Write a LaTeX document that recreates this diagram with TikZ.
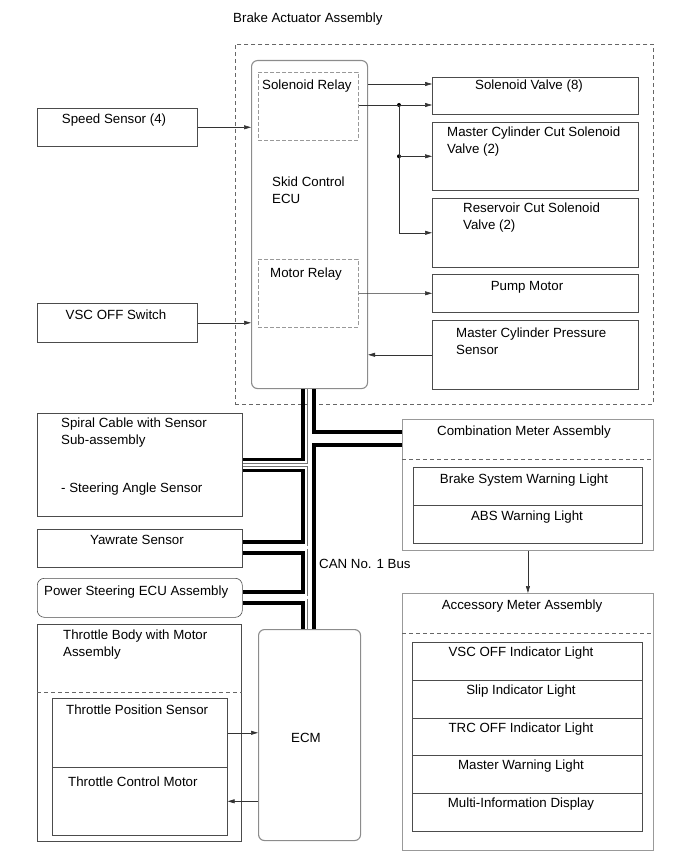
\documentclass[tikz,border=0pt]{standalone}
\usepackage{fontspec}
\setmainfont{Liberation Sans}
\usetikzlibrary{arrows.meta,calc}

\tikzset{
  box/.style={draw=black!70, line width=0.6pt, inner sep=0pt},
  grpbox/.style={draw=black!40, line width=0.9pt, inner sep=0pt},
  ecubox/.style={draw=black!45, line width=1.1pt, rounded corners=6pt, inner sep=0pt},
  relaybox/.style={draw=black!40, dash pattern=on 4pt off 2pt, line width=0.8pt, inner sep=0pt},
  grpdash/.style={draw=black!60, dash pattern=on 4pt off 3pt, line width=0.5pt, inner sep=0pt},
  lbl/.style={font=\fontsize{13.3}{17}\selectfont, inner sep=0pt, align=left},
  sig/.style={draw=black!80, line width=0.6pt, -{Triangle[length=7pt,width=4pt]}},
  canwire/.style={line width=3.8pt, black},
  canpair/.style={draw=black!55, line width=0.6pt, double=white, double distance=2.2pt},
  jdot/.style={circle, fill=black, inner sep=0pt, minimum size=4pt},
}

\begin{document}
\begin{tikzpicture}[x=1pt,y=-1pt]
\useasboundingbox (0,0) rectangle (690,853);

% Brake actuator assembly
\node[lbl, anchor=base west] (batitle) at (233,23) {Brake Actuator Assembly};
\node[grpdash, minimum width=418pt, minimum height=360pt, anchor=north west] (bra) at (235,44) {};
\node[ecubox, minimum width=116pt, minimum height=328pt, anchor=north west] (ecu) at (251,60) {};
\node[relaybox, minimum width=100pt, minimum height=68pt, anchor=north west] (solrelay) at (258,72) {};
\node[relaybox, minimum width=100pt, minimum height=68pt, anchor=north west] (motrelay) at (258,259) {};
\node[lbl, anchor=base west] (solrelaytxt) at (262,90) {Solenoid Relay};
\node[lbl, anchor=base west] (motrelaytxt) at (270,277) {Motor Relay};
\node[lbl, anchor=north west] (ecutxt) at (272,177) {Skid Control\\ECU};

% actuators and sensor in the assembly
\node[box, minimum width=206pt, minimum height=37pt, anchor=north west] (sv) at (432,77) {};
\node[box, minimum width=206pt, minimum height=68pt, anchor=north west] (mccv) at (432,122) {};
\node[box, minimum width=206pt, minimum height=69pt, anchor=north west] (rcv) at (432,198) {};
\node[box, minimum width=206pt, minimum height=38pt, anchor=north west] (pm) at (432,274) {};
\node[box, minimum width=206pt, minimum height=69pt, anchor=north west] (mcps) at (432,320) {};
\node[lbl, anchor=base] (svtxt) at (529,90) {Solenoid Valve (8)};
\node[lbl, anchor=north west] (mccvtxt) at (447,127) {Master Cylinder Cut Solenoid\\Valve (2)};
\node[lbl, anchor=north west] (rcvtxt) at (463,203) {Reservoir Cut Solenoid\\Valve (2)};
\node[lbl, anchor=base] (pmtxt) at (527,290) {Pump Motor};
\node[lbl, anchor=north west] (mcpstxt) at (456,328) {Master Cylinder Pressure\\Sensor};

% left side
\node[box, minimum width=160pt, minimum height=38pt, anchor=north west] (ss) at (37,108) {};
\node[box, minimum width=160pt, minimum height=39pt, anchor=north west] (vsc) at (37,303) {};
\node[lbl, anchor=base] (sstxt) at (114,124) {Speed Sensor (4)};
\node[lbl, anchor=base] (vsctxt) at (116,319) {VSC OFF Switch};
\node[box, minimum width=205pt, minimum height=103pt, anchor=north west] (spiral) at (37,413) {};
\node[lbl, anchor=north west] (spiraltxt) at (61,418) {Spiral Cable with Sensor\\Sub-assembly};
\node[lbl, anchor=base west] (sastxt) at (61,492) {- Steering Angle Sensor};
\node[box, minimum width=205pt, minimum height=38pt, anchor=north west] (yaw) at (37,529) {};
\node[lbl, anchor=base] (yawtxt) at (137,544) {Yawrate Sensor};
\node[box, rounded corners=7pt, minimum width=205pt, minimum height=39pt, anchor=north west] (ps) at (37,578) {};
\node[lbl, anchor=base west] (pstxt) at (44,595) {Power Steering ECU Assembly};

% throttle body
\node[box, minimum width=204pt, minimum height=217pt, anchor=north west] (tb) at (37,624) {};
\draw[grpdash] (tb.west |- 0,692) -- (tb.east |- 0,692);
\node[lbl, anchor=north west] (tbtxt) at (63,630) {Throttle Body with Motor\\Assembly};
\node[box, minimum width=175pt, minimum height=69pt, anchor=north west] (tps) at (52,698) {};
\node[box, minimum width=175pt, minimum height=68pt, anchor=north west] (tcm) at (52,767) {};
\node[lbl, anchor=base west] (tpstxt) at (66,714) {Throttle Position Sensor};
\node[lbl, anchor=base west] (tcmtxt) at (68,786) {Throttle Control Motor};

% ECM
\node[ecubox, minimum width=102pt, minimum height=211pt, anchor=north west] (ecm) at (258,629) {};
\node[lbl] (ecmtxt) at (306,738) {ECM};

% combination meter
\node[grpbox, minimum width=251pt, minimum height=131pt, anchor=north west] (cm) at (402,419) {};
\draw[grpdash] (cm.west |- 0,459) -- (cm.east |- 0,459);
\node[lbl, anchor=base] (cmtxt) at (524,435) {Combination Meter Assembly};
\node[box, minimum width=229pt, minimum height=37.5pt, anchor=north west] (bswl) at (413,467) {};
\node[box, minimum width=229pt, minimum height=38.5pt, anchor=north west] (absl) at (413,504.5) {};
\node[lbl, anchor=base] (bswltxt) at (524,483) {Brake System Warning Light};
\node[lbl, anchor=base] (absltxt) at (527,520) {ABS Warning Light};

% accessory meter
\node[grpbox, minimum width=251pt, minimum height=257pt, anchor=north west] (am) at (402,593) {};
\draw[grpdash] (am.west |- 0,633) -- (am.east |- 0,633);
\node[lbl, anchor=base] (amtxt) at (522,609) {Accessory Meter Assembly};
\foreach \txt [count=\i from 0] in {VSC OFF Indicator Light, Slip Indicator Light,
    TRC OFF Indicator Light, Master Warning Light, Multi-Information Display} {
  \node[box, minimum width=230pt, minimum height=37.8pt, anchor=north west] (amrow\i) at (412,{642+37.8*\i}) {};
  \node[lbl, anchor=base] (amrowtxt\i) at (521,{656.5+37.8*\i}) {\txt};
}

% signal lines
\draw[sig] (ss.east) -- (ss.east -| ecu.west);
\draw[sig] (vsc.east) -- (vsc.east -| ecu.west);
\draw[sig] (ecu.east |- 0,84) -- (sv.west |- 0,84);
\node[jdot] (j1) at (399,105) {};
\node[jdot] (j2) at (j1 |- mccv.west) {};
\draw[sig] (solrelay.east |- j1) -- (sv.west |- j1);
\draw[sig] (j1.center) |- (rcv.west);
\draw[sig] (j2.center) -- (mccv.west);
\draw[sig] (motrelay.east) -- (pm.west);
\draw[sig] (mcps.west) -- (mcps.west -| ecu.east);
\draw[sig] (cm.south) -- (am.north);
\draw[sig] (tps.east) -- (tps.east -| ecm.west);
\draw[sig] (ecm.west |- tcm.east) -- (tcm.east);

% CAN No. 1 bus
\coordinate (wl) at (303,0);
\coordinate (wp) at (308.7,0);
\coordinate (wr) at (314,0);
\draw[canwire] (ecu.south -| wl) |- (spiral.east |- 0,459.5);
\draw[canwire] (spiral.east |- 0,470.5) -| (wl |- 0,542) -- (yaw.east |- 0,542);
\draw[canwire] (yaw.east |- 0,553) -| (wl |- 0,592) -- (ps.east |- 0,592);
\draw[canwire] (ps.east |- 0,603) -| (ecm.north -| wl);
\draw[canwire] (ecu.south -| wr) |- (cm.west |- 0,432);
\draw[canwire] (cm.west |- 0,445) -| (ecm.north -| wr);
\draw[canpair] (ecu.south -| wp) -- (ecm.north -| wp)
  (wp |- 0,438.5) -- (cm.west |- 0,438.5)
  (spiral.east |- 0,465) -- (wp |- 0,465)
  (yaw.east |- 0,547.5) -- (wp |- 0,547.5)
  (ps.east |- 0,597.5) -- (wp |- 0,597.5);
\node[lbl, anchor=base west] (cantxt) at (319,568) {CAN No. 1 Bus};
\end{tikzpicture}
\end{document}
